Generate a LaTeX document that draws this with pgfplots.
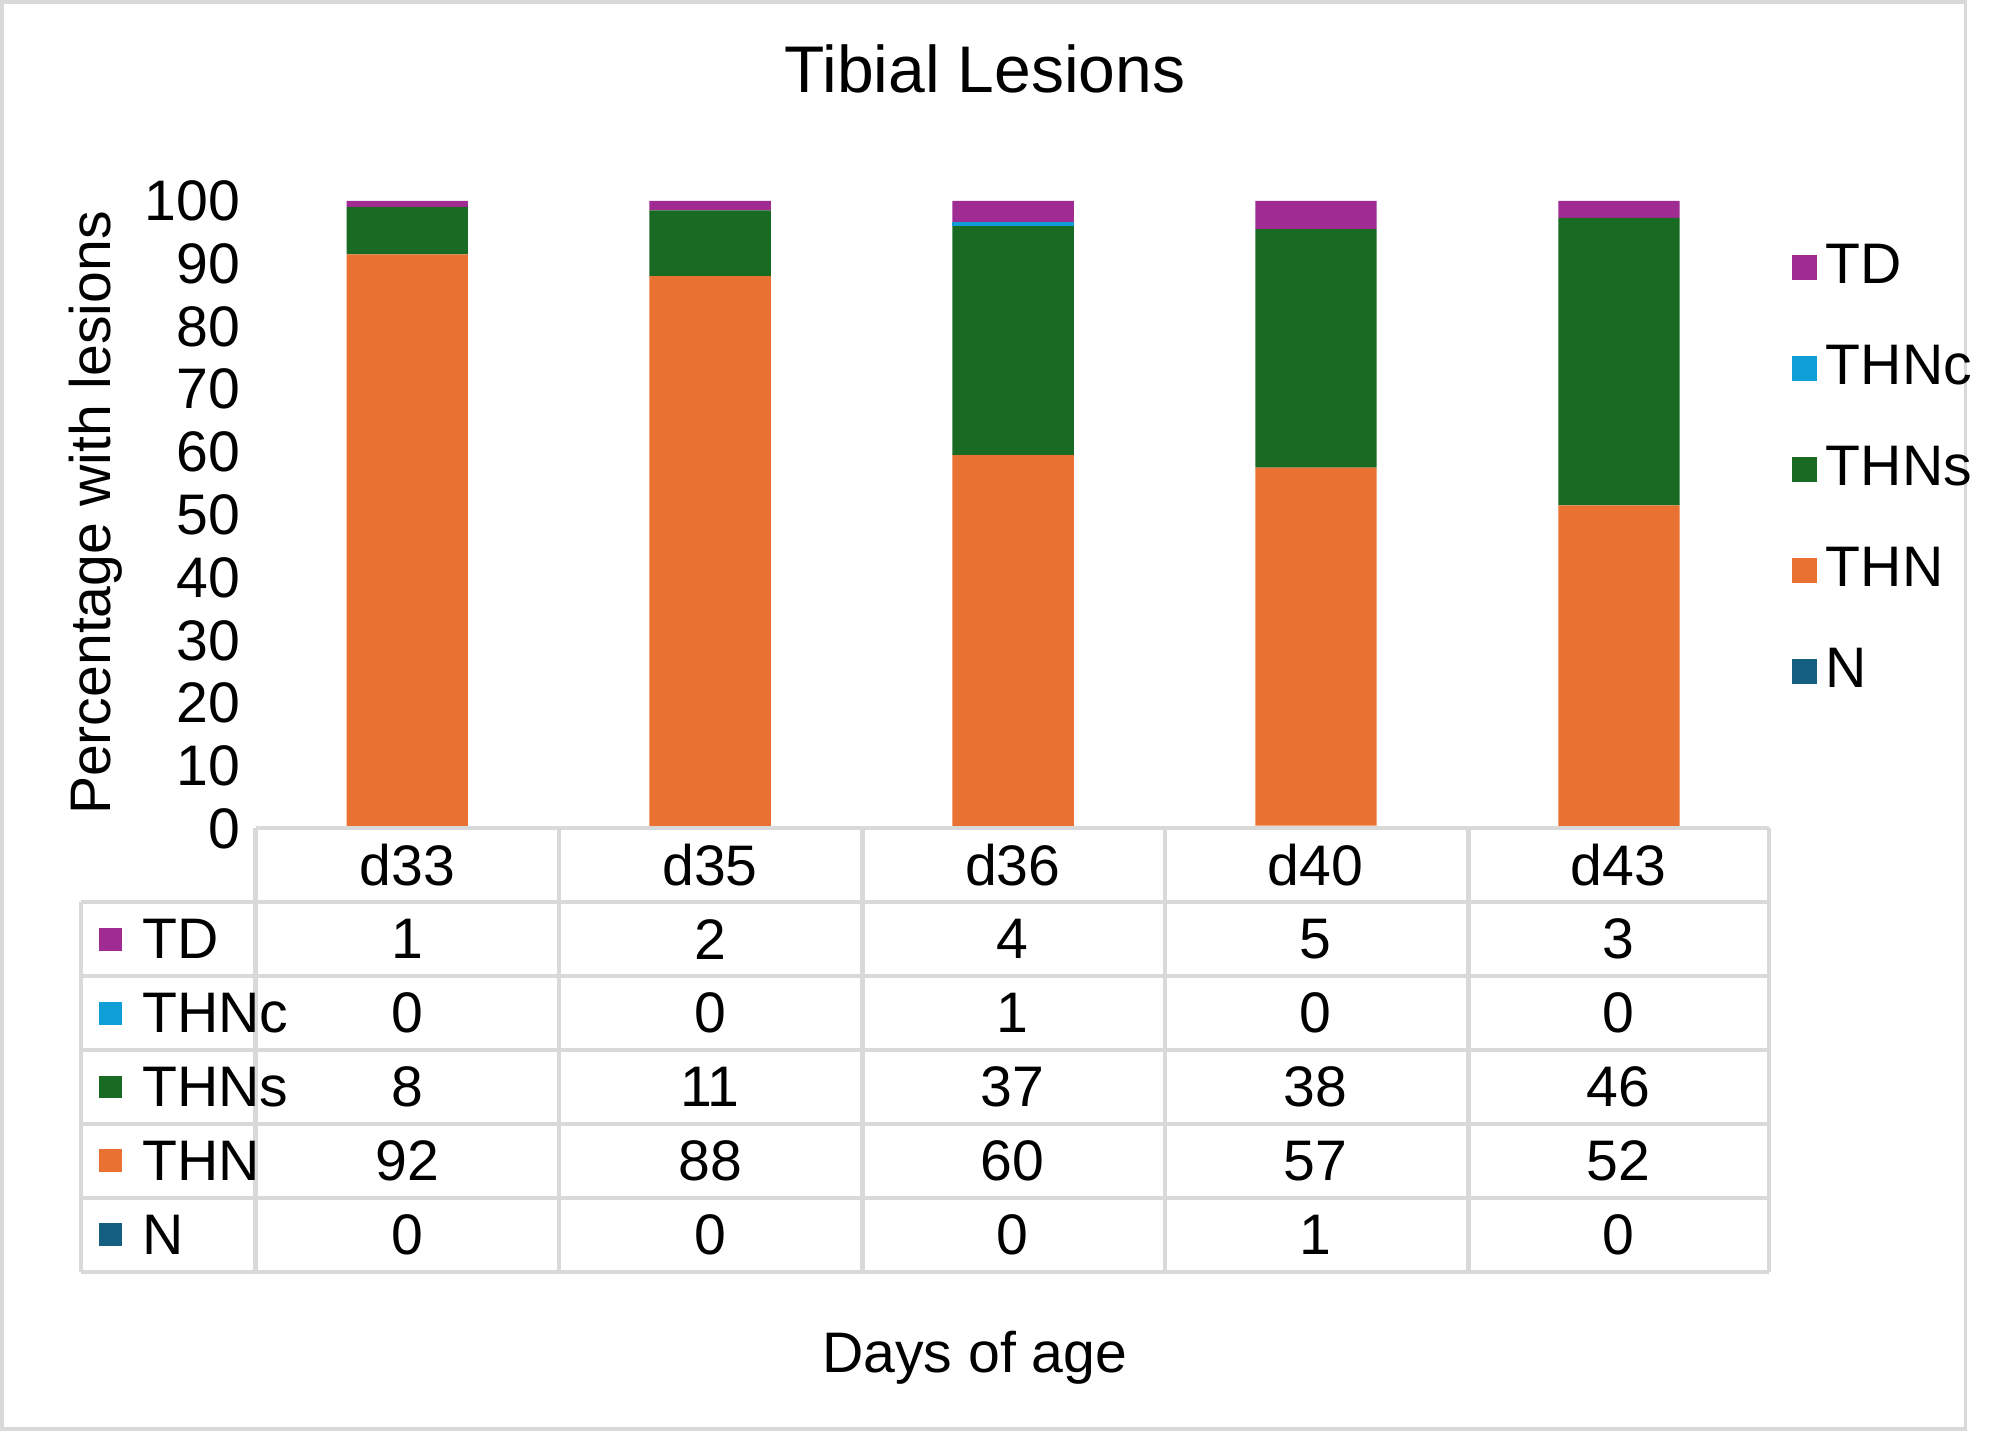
\documentclass[border=0pt]{standalone}
\usepackage{pgfplots}
\pgfplotsset{compat=1.18}
\usepackage{fontspec}
\setmainfont{Liberation Sans}
\definecolor{cN}{HTML}{156082}
\definecolor{cTHN}{HTML}{E97132}
\definecolor{cTHNs}{HTML}{196B24}
\definecolor{cTHNc}{HTML}{0F9ED5}
\definecolor{cTD}{HTML}{A02B93}
\definecolor{grid}{HTML}{D9D9D9}
\newcommand{\fs}{\fontsize{13}{15}\selectfont}
\begin{document}
\begin{tikzpicture}
\begin{scope}[x=0.0102cm,y=-0.0102cm]
\draw[grid,line width=0.8pt] (14,14) rectangle (1554,1133);
\end{scope}
\begin{axis}[at={(2.1726cm,-6.7524cm)},anchor=south west,scale only axis,
 width=12.107cm,height=5.018cm,
 ybar stacked,bar width=0.97cm,
 xmin=-0.5,xmax=4.5,ymin=0,ymax=100,
 ytick={0,10,...,100},
 axis line style={draw=none},xtick=\empty,
 major tick length=0pt,
 tick label style={font=\fs},
 /pgf/number format/assume math mode=true,
 clip=false,
 reverse legend,
 legend style={at={(1.005,0.96)},anchor=north west,draw=none,fill=none,
   font=\fs,row sep=0.3cm},
 legend cell align=left,
 area legend,
 legend image code/.code={\fill[#1] (0cm,-0.1cm) rectangle (0.2cm,0.1cm);},
]
\addplot[fill=cN,draw=none] coordinates {(0,0) (1,0) (2,0) (3,0.5) (4,0)};
\addplot[fill=cTHN,draw=none] coordinates {(0,91.5) (1,88) (2,59.5) (3,57) (4,51.5)};
\addplot[fill=cTHNs,draw=none] coordinates {(0,7.5) (1,10.5) (2,36.5) (3,38) (4,45.8)};
\addplot[fill=cTHNc,draw=none] coordinates {(0,0) (1,0) (2,0.6) (3,0) (4,0)};
\addplot[fill=cTD,draw=none] coordinates {(0,1) (1,1.5) (2,3.4) (3,4.5) (4,2.7)};
\legend{N,THN,THNs,THNc,TD}
\end{axis}
\begin{scope}[x=0.0102cm,y=-0.0102cm]
\node at (785,67) {\fontsize{15}{18}\selectfont Tibial Lesions};
\node[rotate=90] at (88,415) {\fs Percentage with lesions};
\node at (777,1077) {\fs Days of age};
\draw[grid,line width=1pt] (213,662) -- (1400,662);
\foreach \yy in {720,778,836,894,952,1010} \draw[grid,line width=1pt] (76,\yy) -- (1400,\yy);
\draw[grid,line width=1pt] (76,720) -- (76,1010);
\foreach \xx in {213,451,689,926,1164,1400} \draw[grid,line width=1pt] (\xx,662) -- (\xx,1010);
\foreach \d [count=\i from 0] in {d33,d35,d36,d40,d43}
  \node[font=\fs] at (332+237.4*\i,691) {\d};
\foreach \nm/\c [count=\r from 0] in {TD/cTD,THNc/cTHNc,THNs/cTHNs,THN/cTHN,N/cN}{
  \fill[\c] (90,749+58*\r-9) rectangle (108,749+58*\r+9);
  \node[anchor=west,font=\fs] at (112,749+58*\r) {\nm};
}
\foreach \row [count=\r from 0] in {{1,2,4,5,3},{0,0,1,0,0},{8,11,37,38,46},{92,88,60,57,52},{0,0,0,1,0}}{
  \foreach \v [count=\i from 0] in \row
    \node[font=\fs] at (332+237.4*\i,749+58*\r) {\v};
}
\end{scope}
\end{tikzpicture}
\end{document}
